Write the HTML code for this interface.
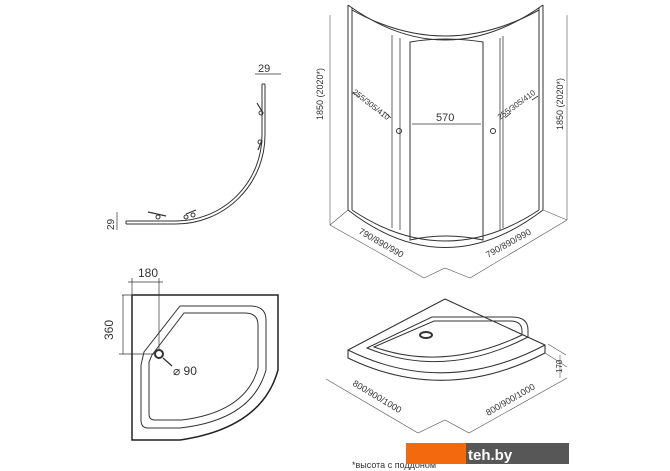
<!DOCTYPE html>
<html><head><meta charset="utf-8"><style>
body{margin:0;background:#fff;}
svg{display:block;font-family:"Liberation Sans","DejaVu Sans",sans-serif;}
</style></head><body>
<svg width="670" height="471" viewBox="0 0 670 471" xmlns="http://www.w3.org/2000/svg">
<g fill="none" stroke="#333" stroke-width="1">
<path d="M262 84 V135 A86 86 0 0 1 176 221 H126"/>
<path d="M265 84 V135 A89 89 0 0 1 176 224 H126"/>
<path d="M262 84 h3 M126 221 v3"/>
<path d="M255 74 H281" stroke-width="0.7"/>
<path d="M117 212 v18" stroke-width="0.7"/>
<path d="M257 103 l6 10 M258 150 l4 -10 M148 212 l18 4 M186 214 l10 -4" stroke-width="1.2"/>
<circle cx="261" cy="113" r="2"/><circle cx="260" cy="142" r="2"/><circle cx="158" cy="217" r="2"/><circle cx="186" cy="217" r="2"/><circle cx="193" cy="215" r="2"/>
<path d="M132 295 H278 V370 Q262 428 180 440 H132 Z" stroke="#222" stroke-width="1.5"/>
<path d="M180 306 H250 Q266 306 266 320 V370 Q252 420 180 428 H148 Q141 428 141 420 V365 L144 352 Z"/>
<path d="M184 313 H245 Q258 313 258 325 V368 Q246 412 182 420 H155 Q149 420 149 414 V362 L152 355 Z"/>
<circle cx="159" cy="354" r="4" stroke-width="2"/>
<path d="M163 358 L172 366" stroke-width="1.3"/>
<path d="M132 294 V278 M159 350 V278 M128 282 H163 M119 354 H155 M122 295 H132 M123 295 V354" stroke-width="0.7"/>
<path d="M348 5 V210 M352 8 V210 M543 5 V210 M539 8 V210"/>
<path d="M348 5 Q445 75 543 5"/>
<path d="M352 10 Q445 62 539 10"/>
<path d="M348 210 Q445 285 543 210"/>
<path d="M352 210 Q445 272 539 210"/>
<path d="M410 42 Q445 36 483 42 V240 Q445 232 410 240 Z"/>
<path d="M392 35 V228 M400 38 V230 M500 38 V230 M503 36 V228" stroke="#666"/>
<circle cx="399" cy="131" r="2.5"/><circle cx="493" cy="131" r="2.5"/>
<path d="M412 124 H481 M353 92 L359 97 M385 112 L391 118 M505 118 L511 113 M532 100 L538 96" stroke-width="0.8"/>
<path d="M330 15 V225 M567 15 V220 M330 225 L424 278 M567 220 L470 278 M348 210 L330 225 M543 210 L567 220 M424 278 L445 268 L470 278" stroke-width="0.6" stroke="#555"/>
<path d="M348 350 L445 299 L545 345 V353 Q445 405 348 358 Z" stroke-width="1.1"/>
<path d="M348 350 Q445 398 545 345"/>
<path d="M367 348 L432 317 H512 Q528 317 528 330 V337 Q445 380 367 348 Z"/>
<path d="M374 347 L434 321 H510 Q522 321 522 331 V335 Q445 372 374 347 Z"/>
<ellipse cx="426" cy="335" rx="6" ry="3" stroke-width="2"/>
<path d="M326 379 L418 433 L445 420 L469 433 L567 378 M545 353 L567 367 M560 355 V378 M548 344 L566 355" stroke-width="0.6" stroke="#555"/>
</g>
<g fill="#333" font-size="11">
<text x="258" y="72">29</text>
<text transform="translate(114,230) rotate(-90)" font-size="10">29</text>
<text x="138" y="277" font-size="12">180</text>
<text transform="translate(113,340) rotate(-90)" font-size="12">360</text>
<text x="173" y="375" font-size="12">⌀ 90</text>
<text x="436" y="121" font-size="11">570</text>
<text transform="translate(323,120) rotate(-90)" font-size="9">1850 (2020*)</text>
<text transform="translate(563,130) rotate(-90)" font-size="9">1850 (2020*)</text>
<text transform="translate(352,93) rotate(38)" font-size="8">255/305/410</text>
<text transform="translate(500,120) rotate(-36)" font-size="8">255/305/410</text>
<text transform="translate(358,233) rotate(30)" font-size="9">790/890/990</text>
<text transform="translate(488,258) rotate(-29)" font-size="9">790/890/990</text>
<text transform="translate(352,385) rotate(31)" font-size="9">800/900/1000</text>
<text transform="translate(488,416) rotate(-30)" font-size="9">800/900/1000</text>
<text transform="translate(562,373) rotate(-90)" font-size="8">170</text>
<text x="352" y="468" font-size="9">*высота с поддоном</text>
</g>
<rect x="406" y="443" width="60" height="21" fill="#f26a0d"/>
<rect x="466" y="443" width="103" height="21" fill="#575757"/>
<text x="468" y="460" fill="#fff" font-size="15" font-weight="bold">teh.by</text>
</svg>
</body></html>
